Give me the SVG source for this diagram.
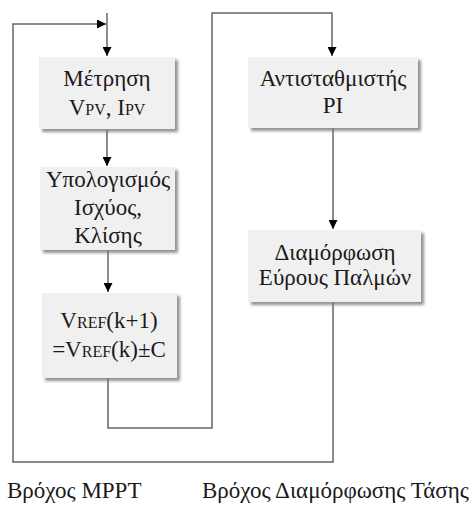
<svg xmlns="http://www.w3.org/2000/svg" width="472" height="514" viewBox="0 0 472 514">
  <style>
    .box { fill: #f0f0f0; stroke: none; filter: url(#shadow); }
    .wire { fill: none; stroke: #666; stroke-width: 1.5; }
  </style>
  <defs>
    <filter id="shadow" x="-10%" y="-10%" width="130%" height="130%">
      <feDropShadow dx="3" dy="3" stdDeviation="1.5" flood-color="#777" flood-opacity="0.8"/>
    </filter>
    <marker id="arrow" viewBox="0 0 10 10" refX="10" refY="5" markerWidth="9" markerHeight="9" markerUnits="userSpaceOnUse" orient="auto">
      <path d="M0,0 L10,5 L0,10 Z" fill="#000"/>
    </marker>
  </defs>
  <rect width="472" height="514" fill="#fff"/>

  <!-- loop wiring: MPPT loop on the left, voltage-control loop on the right -->
  <g id="connectors">
    <path class="wire" d="M333,302 V462 H13 V24 H106" marker-end="url(#arrow)"/>
    <path class="wire" d="M107,13 V56" marker-end="url(#arrow)"/>
    <path class="wire" d="M107,130 V166" marker-end="url(#arrow)"/>
    <path class="wire" d="M108,250 V292" marker-end="url(#arrow)"/>
    <path class="wire" d="M108,378 V428 H212 V13 H332 V56" marker-end="url(#arrow)"/>
    <path class="wire" d="M333,128 V229" marker-end="url(#arrow)"/>
  </g>

  <g id="measure">
    <rect class="box" x="39" y="57" width="136" height="72"/>
    <text x="107" y="86" font-family="Liberation Serif" font-size="23" fill="#1a1a1a" text-anchor="middle">Μέτρηση</text>
    <text x="107" y="115" font-family="Liberation Serif" font-size="23" fill="#1a1a1a" text-anchor="middle">V<tspan font-size="16">PV</tspan>, I<tspan font-size="16">PV</tspan></text>
  </g>

  <g id="compute">
    <rect class="box" x="40" y="167" width="135" height="83"/>
    <text x="108" y="187" font-family="Liberation Serif" font-size="23" fill="#1a1a1a" text-anchor="middle">Υπολογισμός</text>
    <text x="108" y="215" font-family="Liberation Serif" font-size="23" fill="#1a1a1a" text-anchor="middle">Ισχύος,</text>
    <text x="108" y="243" font-family="Liberation Serif" font-size="23" fill="#1a1a1a" text-anchor="middle">Κλίσης</text>
  </g>

  <g id="vref">
    <rect class="box" x="42" y="293" width="135" height="85"/>
    <text x="109" y="328" font-family="Liberation Serif" font-size="23" fill="#1a1a1a" text-anchor="middle">V<tspan font-size="16">REF</tspan>(k+1)</text>
    <text x="109" y="357" font-family="Liberation Serif" font-size="23" fill="#1a1a1a" text-anchor="middle">=V<tspan font-size="16">REF</tspan>(k)±C</text>
  </g>

  <g id="pi">
    <rect class="box" x="248" y="57" width="170" height="71"/>
    <text x="333" y="86" font-family="Liberation Serif" font-size="23" fill="#1a1a1a" text-anchor="middle">Αντισταθμιστής</text>
    <text x="333" y="113" font-family="Liberation Serif" font-size="23" fill="#1a1a1a" text-anchor="middle">PI</text>
  </g>

  <g id="pwm">
    <rect class="box" x="248" y="230" width="173" height="72"/>
    <text x="335" y="260" font-family="Liberation Serif" font-size="23" fill="#1a1a1a" text-anchor="middle">Διαμόρφωση</text>
    <text x="335" y="285" font-family="Liberation Serif" font-size="23" fill="#1a1a1a" text-anchor="middle">Εύρους Παλμών</text>
  </g>

  <g id="captions">
    <text x="7" y="498" font-family="Liberation Serif" font-size="23" fill="#1a1a1a">Βρόχος MPPT</text>
    <text x="202" y="498" font-family="Liberation Serif" font-size="23" fill="#1a1a1a">Βρόχος Διαμόρφωσης Τάσης</text>
  </g>
</svg>
